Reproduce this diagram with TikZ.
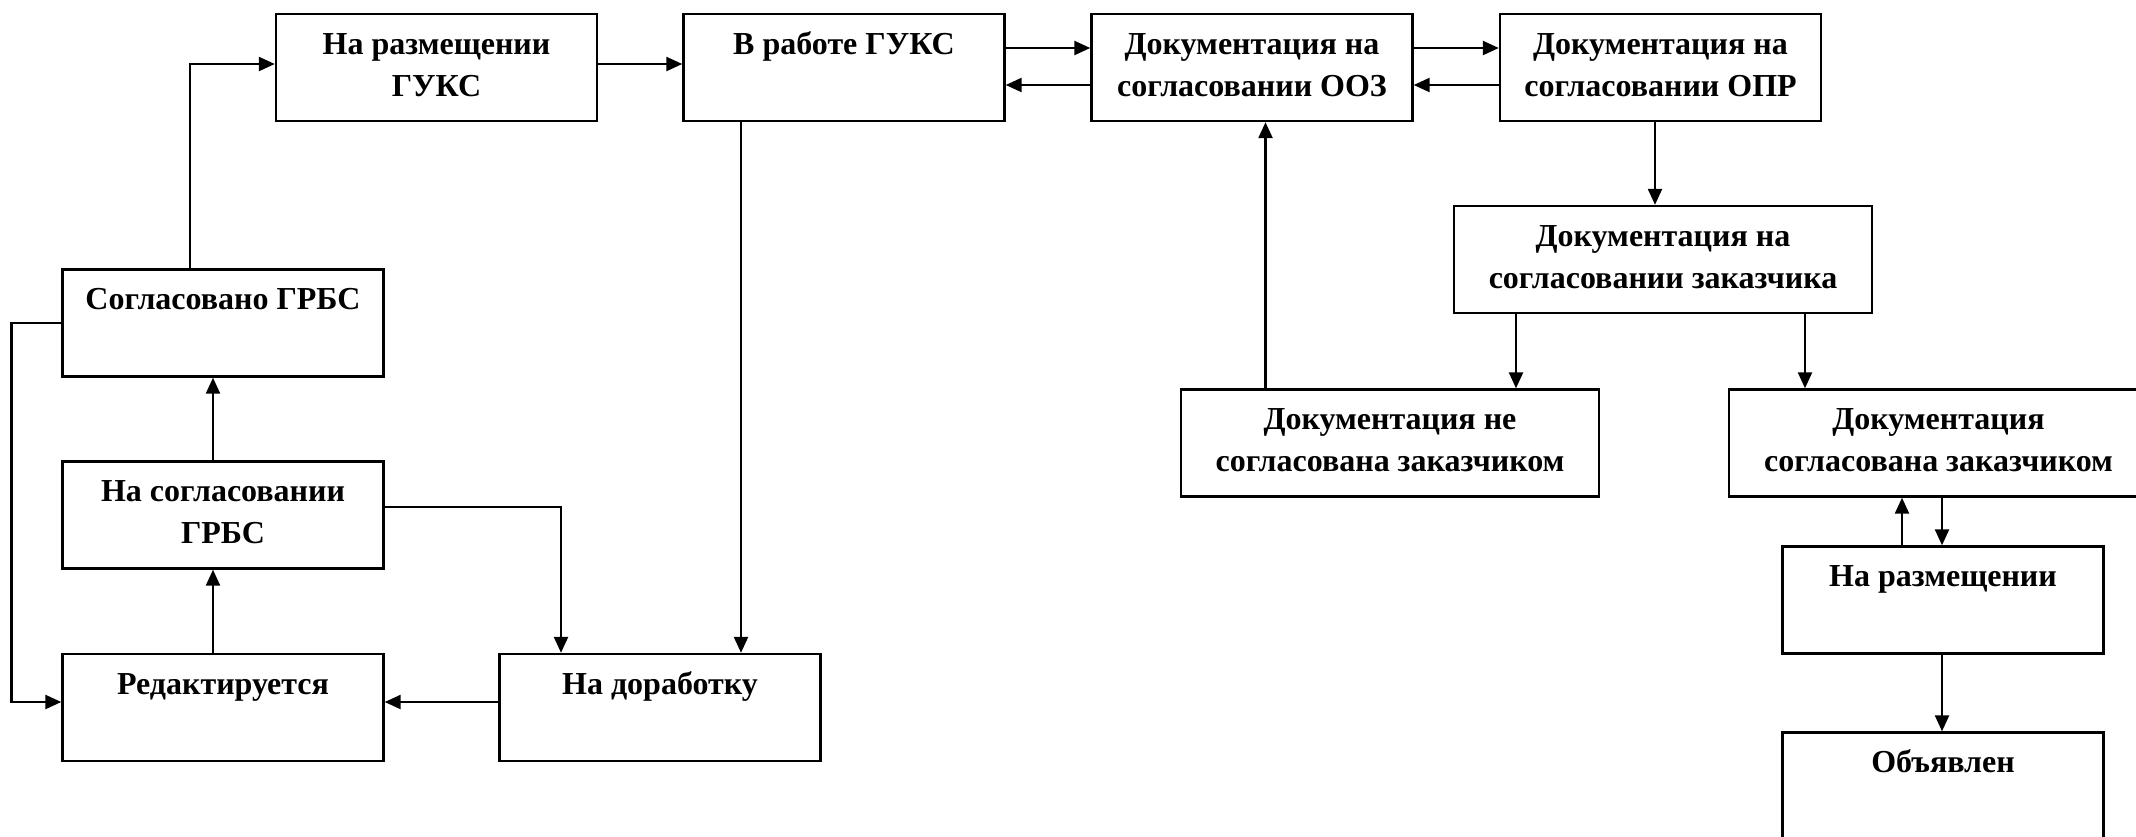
\documentclass[tikz,border=0pt]{standalone}
\usepackage{fontspec}
\setmainfont{Liberation Serif}
\usetikzlibrary{arrows.meta}
\begin{document}
\begin{tikzpicture}[x=0.5pt,y=-0.5pt,
  box/.style={draw, line width=1.2pt, minimum width=160.5pt, minimum height=53.5pt, inner sep=0pt},
  widebox/.style={box, minimum width=209pt},
  lbl/.style={anchor=north, align=center, inner sep=0pt, font=\bfseries\fontsize{16pt}{21pt}\selectfont},
  arr/.style={line width=1.2pt, -{Triangle[length=8pt,width=7pt]}},
  ln/.style={line width=1.2pt}]
\useasboundingbox (0,0) rectangle (2136,836);
\clip (0,0) rectangle (2136,836);
% boxes
\node[box] (razmGUKS) at (436.5,67.5) {};
\node[box] (rabota) at (844,67.5) {};
\node[box] (ooz) at (1252,67.5) {};
\node[box] (opr) at (1660.5,67.5) {};
\node[widebox] (zak) at (1663,259.5) {};
\node[widebox] (nesogl) at (1390,443) {};
\node[widebox, minimum width=209.5pt] (sogl) at (1938.5,443) {};
\node[box] (razm) at (1943,600) {};
\node[box] (obyav) at (1943,786) {};
\node[box] (soglGRBS) at (223,323) {};
\node[box] (naSoglGRBS) at (223,515) {};
\node[box] (red) at (223,707.5) {};
\node[box] (dorab) at (660,707.5) {};
% texts
\node[lbl] (t1) at ([yshift=-5.8pt]razmGUKS.north) {\strut На размещении\\ГУКС};
\node[lbl] (t2) at ([yshift=-5.8pt]rabota.north) {\strut В работе ГУКС};
\node[lbl] (t3) at ([yshift=-5.8pt]ooz.north) {\strut Документация на\\согласовании ООЗ};
\node[lbl] (t4) at ([yshift=-5.8pt]opr.north) {\strut Документация на\\согласовании ОПР};
\node[lbl] (t5) at ([yshift=-5.8pt]zak.north) {\strut Документация на\\согласовании заказчика};
\node[lbl] (t6) at ([yshift=-5.8pt]nesogl.north) {\strut Документация не\\согласована заказчиком};
\node[lbl] (t7) at ([yshift=-5.8pt]sogl.north) {\strut Документация\\согласована заказчиком};
\node[lbl] (t8) at ([yshift=-5.8pt]razm.north) {\strut На размещении};
\node[lbl] (t9) at ([yshift=-5.8pt]obyav.north) {\strut Объявлен};
\node[lbl] (t10) at ([yshift=-5.8pt]soglGRBS.north) {\strut Согласовано ГРБС};
\node[lbl] (t11) at ([yshift=-5.8pt]naSoglGRBS.north) {\strut На согласовании\\ГРБС};
\node[lbl] (t12) at ([yshift=-5.8pt]red.north) {\strut Редактируется};
\node[lbl] (t13) at ([yshift=-5.8pt]dorab.north) {\strut На доработку};
% connectors
\draw[arr] (soglGRBS.north -| 190,0) |- (razmGUKS.west |- 0,64);
\draw[arr] (razmGUKS.east |- 0,64) -- (rabota.west |- 0,64);
\draw[arr] (rabota.east |- 0,48) -- (ooz.west |- 0,48);
\draw[arr] (ooz.west |- 0,85) -- (rabota.east |- 0,85);
\draw[arr] (ooz.east |- 0,48) -- (opr.west |- 0,48);
\draw[arr] (opr.west |- 0,85) -- (ooz.east |- 0,85);
\draw[arr] (opr.south -| 1655,0) -- (zak.north -| 1655,0);
\draw[arr] (zak.south -| 1516,0) -- (nesogl.north -| 1516,0);
\draw[arr] (zak.south -| 1805,0) -- (sogl.north -| 1805,0);
\draw[arr] (nesogl.north -| 1265.5,0) -- (ooz.south -| 1265.5,0);
\draw[arr] (razm.north -| 1902,0) -- (sogl.south -| 1902,0);
\draw[arr] (sogl.south -| 1942,0) -- (razm.north -| 1942,0);
\draw[arr] (razm.south -| 1942,0) -- (obyav.north -| 1942,0);
\draw[arr] (rabota.south -| 741,0) -- (dorab.north -| 741,0);
\draw[arr] (naSoglGRBS.east |- 0,507) -| (dorab.north -| 561,0);
\draw[arr] (dorab.west |- 0,702) -- (red.east |- 0,702);
\draw[arr] (red.north -| 213,0) -- (naSoglGRBS.south -| 213,0);
\draw[arr] (naSoglGRBS.north -| 213,0) -- (soglGRBS.south -| 213,0);
\coordinate (lc1) at (11.6,323);
\coordinate (lc2) at (11.6,702);
\draw[arr] (soglGRBS.west |- lc1) -- (lc1) -- (lc2) -- (red.west |- lc2);
\end{tikzpicture}
\end{document}
